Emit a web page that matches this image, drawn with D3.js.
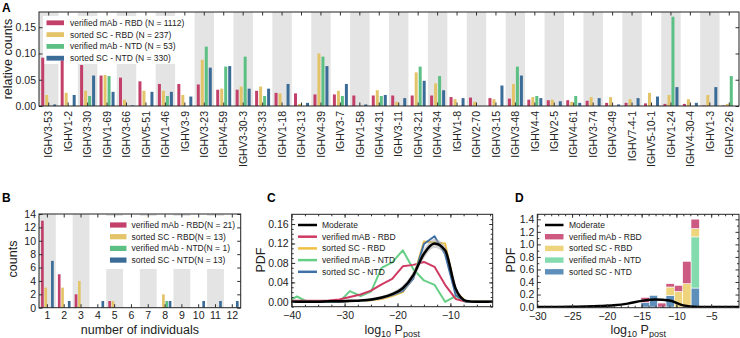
<!DOCTYPE html>
<html>
<head>
<meta charset="utf-8">
<script src="https://cdn.jsdelivr.net/npm/d3@7"></script>
<style>
  body { margin: 0; background: #fff; }
  svg { display: block; font-family: "Liberation Sans", Arial, Helvetica, sans-serif; }
  .tick line { stroke: #333; }
  .tick text { fill: #222; }
</style>
</head>
<body>
<div id="chart"></div>
<script>
// ---- panel A : IGHV usage ----
var genes = ["IGHV3-53","IGHV1-2","IGHV3-30","IGHV1-69","IGHV3-66","IGHV5-51","IGHV1-46","IGHV3-9",
  "IGHV3-23","IGHV4-59","IGHV3-30-3","IGHV3-33","IGHV1-18","IGHV3-13","IGHV4-39","IGHV3-7",
  "IGHV1-58","IGHV4-31","IGHV3-11","IGHV3-21","IGHV4-34","IGHV1-8","IGHV2-70","IGHV3-15",
  "IGHV3-48","IGHV4-4","IGHV2-5","IGHV4-61","IGHV3-74","IGHV3-49","IGHV7-4-1","IGHV5-10-1",
  "IGHV1-24","IGHV4-30-4","IGHV1-3","IGHV2-26"];
var mabRBD = [0.092,0.087,0.078,0.058,0.054,0.047,0.042,0.042,0.041,0.031,0.031,0.029,0.025,0.024,0.022,0.022,
  0.020,0.020,0.020,0.020,0.020,0.017,0.016,0.015,0.014,0.012,0.011,0.011,0.010,0.006,0.006,0.005,
  0.004,0.004,0.001,0.001];
var scRBD = [0.021,0.025,0.029,0.059,0.012,0.029,0.029,0.021,0.088,0.033,0.037,0.037,0.024,0.004,0.100,0.029,
  0,0.030,0.008,0.064,0.043,0.013,0.008,0.013,0.042,0.017,0.012,0.008,0.017,0.017,0.013,0.025,
  0.021,0.013,0.021,0.004];
var mabNTD = [0,0,0.019,0.057,0,0,0.019,0,0.113,0.075,0.094,0.019,0,0,0.094,0.019,
  0,0.019,0,0.075,0.057,0,0,0,0.075,0.019,0,0.019,0,0,0,0,
  0.170,0,0,0.057];
var scNTD = [0.003,0.021,0.058,0.027,0.001,0.027,0.027,0.018,0.073,0.076,0.033,0.033,0.042,0.006,0.076,0.042,
  0.003,0.021,0.015,0.048,0.030,0.015,0,0.039,0.058,0.015,0.009,0.006,0.015,0.003,0.015,0.018,
  0.036,0.006,0.036,0];
var ticksA = [0, 0.05, 0.10, 0.15];

// ---- panel B : number of individuals ----
var individuals = [1,2,3,4,5,6,7,8,9,10,11,12];
var bMabRBD = [13,5,2,0,1,0,0,0,0,0,0,0];
var bScRBD  = [3,3,4,0,1,0,0,2,0,0,0,0];
var bMabNTD = [0,0,0,0,0,0,0,1,0,0,0,0];
var bScNTD  = [7,1,0,1,0,0,0,1,0,1,1,1];
var ticksB = [0,2,4,6,8,10,12,14];

// ---- panel C : log10 Ppost densities ----
var logP = [-41,-39,-37,-35,-33,-31,-29,-27,-25,-23,-21,-19,-17,-15,-13,-11,-9,-7,-5,-3,-1];
var cMabRBD = [0.002,0.002,0.002,0.002,0.003,0.005,0.010,0.015,0.023,0.036,0.047,0.073,0.076,0.082,0.072,0.035,0.006,0,0,0,0];
var cScRBD  = [0,0,0,0,0,0,0.001,0.002,0.003,0.006,0.012,0.020,0.050,0.124,0.122,0.120,0.021,0,0,0,0];
var cMabNTD = [0,0.011,0,0,0,0,0.022,0.012,0.021,0.070,0.081,0.106,0.067,0.044,0.035,0,0.012,0,0,0,0];
var cScNTD  = [0,0,0,0,0,0,0.001,0.002,0.004,0.008,0.014,0.022,0.048,0.119,0.135,0.098,0.014,0,0,0,0];
var moderate    = [0,0,0,0,0.001,0.001,0.002,0.003,0.005,0.009,0.016,0.028,0.055,0.099,0.120,0.106,0.027,0.002,0,0,0];
var moderateLow = [0,0,0,0,0,0,0.001,0.002,0.003,0.006,0.012,0.022,0.047,0.089,0.111,0.097,0.021,0,0,0,0];
var moderateHigh= [0,0,0,0,0.002,0.002,0.003,0.004,0.007,0.012,0.020,0.034,0.063,0.108,0.129,0.115,0.033,0.004,0,0,0];
var ticksCx = [-40,-30,-20,-10];
var ticksCy = [0,0.04,0.08,0.12,0.16];

// ---- panel D : stacked histogram ----
var binEdges = [-15.1,-13.9,-12.7,-11.5,-10.3,-9.1,-7.9,-6.7];
var dScNTD  = [0.070,0.187,0,0.187,0,0,0.304];
var dMabNTD = [0,0,0,0,0,0,0.816];
var dScRBD  = [0,0,0,0.133,0.250,0.373,0.133];
var dMabRBD = [0.085,0,0.064,0.053,0.097,0.357,0.150];
var ticksDx = [-30,-25,-20,-15,-10,-5];
var ticksDy = [0,0.2,0.4,0.6,0.8,1.0,1.2,1.4];

var svg = d3.select("#chart").append("svg").attr("width", 740).attr("height", 338);

var RED = "#c2406a", YEL = "#e3c468", GRN = "#5cbf83", BLU = "#3b6c97";
var BAND = "#e4e4e4";

function inner(g, scale, orient, pos, size, values) {
  var f = orient == "left" ? d3.axisLeft : orient == "right" ? d3.axisRight : orient == "top" ? d3.axisTop : d3.axisBottom;
  var ax = f(scale).tickValues(values).tickSizeInner(-size).tickSizeOuter(0).tickFormat("");
  var tr = (orient == "left" || orient == "right") ? "translate(" + pos + ",0)" : "translate(0," + pos + ")";
  g.append("g").attr("transform", tr).call(ax).call(function(s){ s.select(".domain").remove(); });
}

function frame(g, x0, y0, x1, y1) {
  g.append("rect").attr("x", x0).attr("y", y0).attr("width", x1 - x0).attr("height", y1 - y0)
    .attr("fill", "none").attr("stroke", "#222").attr("stroke-width", 1);
}

function letter(t, x, y) {
  svg.append("text").attr("x", x).attr("y", y).style("font-size", "12px").style("font-weight", "bold").text(t);
}

function ylabel(t, x, y) {
  svg.append("text").attr("transform", "translate(" + x + "," + y + ") rotate(-90)")
    .attr("text-anchor", "middle").style("font-size", "12.5px").attr("fill", "#222").text(t);
}

function logLabel(x, y) {
  var t = svg.append("text").attr("x", x).attr("y", y).attr("text-anchor", "middle")
    .style("font-size", "12.5px").attr("fill", "#222");
  t.append("tspan").text("log");
  t.append("tspan").attr("dy", 3).style("font-size", "9px").text("10");
  t.append("tspan").attr("dy", -3).text(" P");
  t.append("tspan").attr("dy", 3).style("font-size", "9px").text("post");
}

// =================== A ===================
var A = {l: 39, r: 739, t: 12, b: 106};
var gA = svg.append("g");
var xA = d3.scaleBand().domain(genes).range([A.l, A.r]);
var yA = d3.scaleLinear().domain([0, 0.179]).range([A.b, A.t]);
var subA = d3.scaleBand().domain([0,1,2,3]).range([-7.5, 7.5]).paddingInner(0.25);

gA.selectAll("rect.band").data(genes.filter(function(d, i){ return i % 2 == 0; }))
  .enter().append("rect").attr("class", "band")
  .attr("x", function(d){ return xA(d); }).attr("y", A.t)
  .attr("width", xA.bandwidth()).attr("height", A.b - A.t).attr("fill", BAND);
// legend box hides the shading, bars stay on top
gA.append("rect").attr("x", 43).attr("y", 16).attr("width", 142).attr("height", 48).attr("fill", "#fff");

var seriesA = [
  {name: "verified mAb - RBD (N = 1112)", values: mabRBD, color: RED},
  {name: "sorted SC - RBD (N = 237)", values: scRBD, color: YEL},
  {name: "verified mAb - NTD (N = 53)", values: mabNTD, color: GRN},
  {name: "sorted SC - NTD (N = 330)", values: scNTD, color: BLU}
];
seriesA.forEach(function(s, k) {
  gA.selectAll("rect.s" + k).data(s.values).enter().append("rect")
    .attr("class", "s" + k)
    .attr("x", function(d, i){ return xA(genes[i]) + xA.bandwidth() / 2 + subA(k); })
    .attr("y", function(d){ return yA(d); })
    .attr("width", subA.bandwidth())
    .attr("height", function(d){ return A.b - yA(d); })
    .attr("fill", s.color);
});

gA.append("g").attr("transform", "translate(" + A.l + ",0)")
  .call(d3.axisLeft(yA).tickValues(ticksA).tickFormat(d3.format(".2f")).tickSizeInner(-3.5).tickSizeOuter(0).tickPadding(3))
  .call(function(s){ s.select(".domain").remove(); s.selectAll("text").style("font-size", "10.5px"); });
inner(gA, yA, "right", A.r, 3.5, ticksA);
gA.append("g").attr("transform", "translate(0," + A.b + ")")
  .call(d3.axisBottom(xA).tickSizeInner(-3.5).tickSizeOuter(0))
  .call(function(s){
    s.select(".domain").remove();
    s.selectAll("text").attr("transform", "rotate(-90)").attr("text-anchor", "end")
      .attr("x", -5).attr("y", 0).attr("dy", "0.35em").style("font-size", "10.5px");
  });
inner(gA, xA, "top", A.t, 3.5, genes);
frame(gA, A.l, A.t, A.r, A.b);

seriesA.forEach(function(s, k) {
  var y = 22.8 + k * 11.8;
  gA.append("rect").attr("x", 46.5).attr("y", y - 2.4).attr("width", 17.5).attr("height", 4.8).attr("fill", s.color);
  gA.append("text").attr("x", 70).attr("y", y).attr("dy", "0.35em").style("font-size", "8.5px").attr("fill", "#222").text(s.name);
});
letter("A", 2, 12);
ylabel("relative counts", 12, 59);

// =================== B ===================
var B = {l: 39, r: 240.7, t: 214, b: 307.7};
var gB = svg.append("g");
var xB = d3.scaleBand().domain(individuals).range([B.l, B.r]);
var yB = d3.scaleLinear().domain([0, 14]).range([B.b, B.t]);
var subB = d3.scaleBand().domain([0,1,2,3]).range([-6.33, 6.33]).paddingInner(0.2);

gB.selectAll("rect.band").data(individuals.filter(function(d, i){ return i % 2 == 0; }))
  .enter().append("rect").attr("class", "band")
  .attr("x", function(d){ return xB(d); }).attr("y", B.t)
  .attr("width", xB.bandwidth()).attr("height", B.b - B.t).attr("fill", BAND);
gB.append("rect").attr("x", 104).attr("y", 216).attr("width", 131).attr("height", 53).attr("fill", "#fff");

var seriesB = [
  {name: "verified mAb - RBD(N = 21)", values: bMabRBD, color: RED},
  {name: "sorted SC - RBD(N = 13)", values: bScRBD, color: YEL},
  {name: "verified mAb - NTD(N = 1)", values: bMabNTD, color: GRN},
  {name: "sorted SC - NTD(N = 13)", values: bScNTD, color: BLU}
];
seriesB.forEach(function(s, k) {
  gB.selectAll("rect.s" + k).data(s.values).enter().append("rect")
    .attr("class", "s" + k)
    .attr("x", function(d, i){ return xB(individuals[i]) + xB.bandwidth() / 2 + subB(k); })
    .attr("y", function(d){ return yB(d); })
    .attr("width", subB.bandwidth())
    .attr("height", function(d){ return B.b - yB(d); })
    .attr("fill", s.color);
});

gB.append("g").attr("transform", "translate(" + B.l + ",0)")
  .call(d3.axisLeft(yB).tickValues(ticksB).tickSizeInner(-3.5).tickSizeOuter(0).tickPadding(3))
  .call(function(s){ s.select(".domain").remove(); s.selectAll("text").style("font-size", "10.5px"); });
inner(gB, yB, "right", B.r, 3.5, ticksB);
gB.append("g").attr("transform", "translate(0," + B.b + ")")
  .call(d3.axisBottom(xB).tickSizeInner(-3.5).tickSizeOuter(0).tickPadding(3.8))
  .call(function(s){ s.select(".domain").remove(); s.selectAll("text").style("font-size", "10.5px"); });
inner(gB, xB, "top", B.t, 3.5, individuals);
frame(gB, B.l, B.t, B.r, B.b);

seriesB.forEach(function(s, k) {
  var y = 225 + k * 11.7;
  gB.append("rect").attr("x", 110).attr("y", y - 2.6).attr("width", 16.5).attr("height", 5.2).attr("fill", s.color);
  gB.append("text").attr("x", 131.5).attr("y", y).attr("dy", "0.35em").style("font-size", "8.5px").attr("fill", "#222").text(s.name);
});
letter("B", 2, 202);
ylabel("counts", 17, 259);
svg.append("text").attr("x", (B.l + B.r) / 2).attr("y", 334).attr("text-anchor", "middle")
  .style("font-size", "12.5px").attr("fill", "#222").text("number of individuals");

// =================== C ===================
var C = {l: 291.7, r: 492.7, t: 214.3, b: 306.7};
var gC = svg.append("g");
var xC = d3.scaleLinear().domain([-40, -2]).range([C.l, C.r]);
var yC = d3.scaleLinear().domain([-0.01, 0.18]).range([C.b, C.t]);
svg.append("clipPath").attr("id", "clipC").append("rect")
  .attr("x", C.l).attr("y", C.t).attr("width", C.r - C.l).attr("height", C.b - C.t);

var seriesC = [
  {name: "verified mAB - NTD", values: cMabNTD, color: "#66cf86"},
  {name: "verified mAB - RBD", values: cMabRBD, color: "#cf3a63"},
  {name: "sorted SC - RBD", values: cScRBD, color: "#efc043"},
  {name: "sorted SC - NTD", values: cScNTD, color: "#3f70a6"}
];
var plotC = gC.append("g").attr("clip-path", "url(#clipC)");
var lineC = d3.line().x(function(d, i){ return xC(logP[i]); }).y(function(d){ return yC(d); });
seriesC.forEach(function(s) {
  plotC.append("path").datum(s.values).attr("d", lineC)
    .attr("fill", "none").attr("stroke", s.color).attr("stroke-width", 2).attr("stroke-linejoin", "round");
});
var areaC = d3.area().curve(d3.curveMonotoneX)
  .x(function(d, i){ return xC(logP[i]); })
  .y0(function(d, i){ return yC(moderateLow[i]); })
  .y1(function(d, i){ return yC(moderateHigh[i]); });
plotC.append("path").datum(moderate).attr("d", areaC).attr("fill", "#aaa").attr("opacity", 0.55);
plotC.append("path").datum(moderate)
  .attr("d", d3.line().curve(d3.curveMonotoneX).x(function(d, i){ return xC(logP[i]); }).y(function(d){ return yC(d); }))
  .attr("fill", "none").attr("stroke", "#000").attr("stroke-width", 2.5);

gC.append("g").attr("transform", "translate(" + C.l + ",0)")
  .call(d3.axisLeft(yC).tickValues(ticksCy).tickFormat(d3.format(".2f")).tickSizeInner(-3.5).tickSizeOuter(0).tickPadding(3))
  .call(function(s){ s.select(".domain").remove(); s.selectAll("text").style("font-size", "10.5px"); });
inner(gC, yC, "right", C.r, 3.5, ticksCy);
inner(gC, yC, "left", C.l, 2, d3.range(-0.01, 0.18, 0.01));
inner(gC, yC, "right", C.r, 2, d3.range(-0.01, 0.18, 0.01));
gC.append("g").attr("transform", "translate(0," + C.b + ")")
  .call(d3.axisBottom(xC).tickValues(ticksCx).tickFormat(d3.format("d")).tickSizeInner(-3.5).tickSizeOuter(0).tickPadding(4.5))
  .call(function(s){ s.select(".domain").remove(); s.selectAll("text").style("font-size", "10.5px"); });
inner(gC, xC, "top", C.t, 3.5, ticksCx);
inner(gC, xC, "bottom", C.b, 2, d3.range(-37.5, -2, 2.5));
inner(gC, xC, "top", C.t, 2, d3.range(-37.5, -2, 2.5));
frame(gC, C.l, C.t, C.r, C.b);

var legC = [{name: "Moderate", color: "#000"}].concat([seriesC[1], seriesC[2], seriesC[0], seriesC[3]]);
legC.forEach(function(s, k) {
  var y = 225 + k * 11.7;
  gC.append("line").attr("x1", 298).attr("x2", 317).attr("y1", y).attr("y2", y)
    .attr("stroke", s.color).attr("stroke-width", 2.5);
  gC.append("text").attr("x", 322).attr("y", y).attr("dy", "0.35em").style("font-size", "8.5px").attr("fill", "#222").text(s.name);
});
letter("C", 267, 202);
ylabel("PDF", 265, 260);
logLabel((C.l + C.r) / 2, 333.5);

// =================== D ===================
var D = {l: 537.3, r: 739, t: 214.3, b: 307.7};
var gD = svg.append("g");
var xD = d3.scaleLinear().domain([-30, -1]).range([D.l, D.r]);
var yD = d3.scaleLinear().domain([-0.01, 1.48]).range([D.b, D.t]);
svg.append("clipPath").attr("id", "clipD").append("rect")
  .attr("x", D.l).attr("y", D.t).attr("width", D.r - D.l).attr("height", D.b - D.t);

var table = binEdges.slice(0, -1).map(function(e, i) {
  return {x0: e, x1: binEdges[i + 1], scNTD: dScNTD[i], mabNTD: dMabNTD[i], scRBD: dScRBD[i], mabRBD: dMabRBD[i]};
});
var keysD = ["scNTD", "mabNTD", "scRBD", "mabRBD"];
var colD = {mabRBD: "#cd5a80", scRBD: "#efd47e", mabNTD: "#84dcae", scNTD: "#5e8fbb"};
var stacked = d3.stack().keys(keysD)(table);
var plotD = gD.append("g").attr("clip-path", "url(#clipD)");
stacked.forEach(function(layer) {
  plotD.selectAll("rect." + layer.key).data(layer.filter(function(d){ return d[1] - d[0] > 0; }))
    .enter().append("rect").attr("class", layer.key)
    .attr("x", function(d){ return xD(d.data.x0); })
    .attr("width", function(d){ return xD(d.data.x1) - xD(d.data.x0); })
    .attr("y", function(d){ return yD(d[1]); })
    .attr("height", function(d){ return yD(d[0]) - yD(d[1]); })
    .attr("fill", colD[layer.key]).attr("stroke", "#fff").attr("stroke-width", 0.6);
});
plotD.append("path").datum(moderate)
  .attr("d", d3.line().curve(d3.curveMonotoneX).x(function(d, i){ return xD(logP[i]); }).y(function(d){ return yD(d); }))
  .attr("fill", "none").attr("stroke", "#000").attr("stroke-width", 2.5);

gD.append("g").attr("transform", "translate(" + D.l + ",0)")
  .call(d3.axisLeft(yD).tickValues(ticksDy).tickFormat(d3.format(".1f")).tickSizeInner(-3.5).tickSizeOuter(0).tickPadding(3))
  .call(function(s){ s.select(".domain").remove(); s.selectAll("text").style("font-size", "10.5px"); });
inner(gD, yD, "right", D.r, 3.5, ticksDy);
inner(gD, yD, "left", D.l, 2, d3.range(0.1, 1.48, 0.2));
inner(gD, yD, "right", D.r, 2, d3.range(0.1, 1.48, 0.2));
gD.append("g").attr("transform", "translate(0," + D.b + ")")
  .call(d3.axisBottom(xD).tickValues(ticksDx).tickFormat(d3.format("d")).tickSizeInner(-3.5).tickSizeOuter(0).tickPadding(4.6))
  .call(function(s){ s.select(".domain").remove(); s.selectAll("text").style("font-size", "10.5px"); });
inner(gD, xD, "top", D.t, 3.5, ticksDx);
inner(gD, xD, "bottom", D.b, 2, d3.range(-29, -1, 1));
inner(gD, xD, "top", D.t, 2, d3.range(-29, -1, 1));
frame(gD, D.l, D.t, D.r, D.b);

var legD = [
  {name: "verified mAb - RBD", color: colD.mabRBD},
  {name: "sorted SC - RBD", color: colD.scRBD},
  {name: "verified mAb - NTD", color: colD.mabNTD},
  {name: "sorted SC - NTD", color: colD.scNTD}
];
gD.append("line").attr("x1", 545).attr("x2", 563.5).attr("y1", 225).attr("y2", 225)
  .attr("stroke", "#000").attr("stroke-width", 2.5);
gD.append("text").attr("x", 569).attr("y", 225).attr("dy", "0.35em").style("font-size", "8.5px").attr("fill", "#222").text("Moderate");
legD.forEach(function(s, k) {
  var y = 225 + (k + 1) * 11.7;
  gD.append("rect").attr("x", 545).attr("y", y - 2.7).attr("width", 18.5).attr("height", 5.4).attr("fill", s.color);
  gD.append("text").attr("x", 569).attr("y", y).attr("dy", "0.35em").style("font-size", "8.5px").attr("fill", "#222").text(s.name);
});
letter("D", 515, 202);
ylabel("PDF", 515, 260);
logLabel((D.l + D.r) / 2, 333.5);
</script>
</body>
</html>
